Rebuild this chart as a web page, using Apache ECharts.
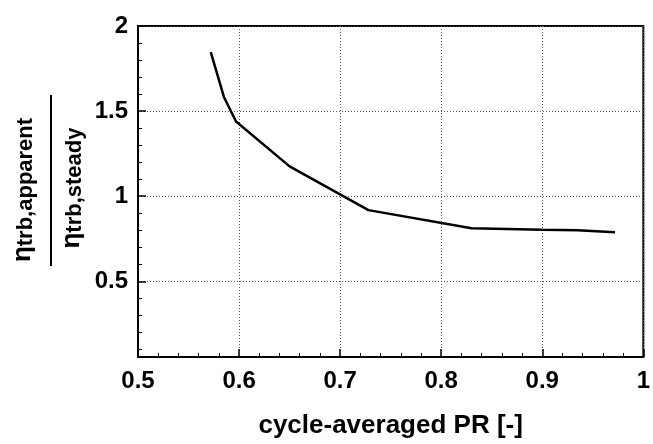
<!DOCTYPE html>
<html>
<head>
<meta charset="utf-8">
<script src="https://cdn.jsdelivr.net/npm/echarts@6/dist/echarts.min.js"></script>
<style>
  html, body { margin: 0; padding: 0; background: #fff; }
  #chart { width: 653px; height: 444px; }
</style>
</head>
<body>
<div id="chart"></div>
<script>
// values
const prValues = [0.572, 0.585, 0.597, 0.650, 0.728, 0.830, 0.900, 0.935, 0.972];
const etaRatio = [1.846, 1.583, 1.439, 1.175, 0.918, 0.812, 0.803, 0.800, 0.788];
const yTickValues = [0.5, 1, 1.5, 2];
const yMinorValues = [0.1, 0.2, 0.3, 0.4, 0.6, 0.7, 0.8, 0.9, 1.1, 1.2, 1.3, 1.4, 1.6, 1.7, 1.8, 1.9];

const chart = echarts.init(document.getElementById('chart'));
const font = 'Liberation Sans';

chart.setOption({
  animation: false,
  grid: {
    left: 138, right: 4, top: 26, bottom: 85,
    show: true, borderColor: '#000', borderWidth: 2
  },
  xAxis: {
    type: 'value',
    min: 0.5, max: 1, interval: 0.1,
    name: 'cycle-averaged PR [-]',
    nameLocation: 'middle',
    nameGap: 56,
    nameTextStyle: { fontFamily: font, fontWeight: 'bold', fontSize: 26, color: '#000' },
    axisLine: { lineStyle: { color: '#000', width: 2 } },
    axisTick: { inside: true, length: 8, lineStyle: { color: '#000', width: 1.5 } },
    minorTick: { show: true, splitNumber: 5, length: 4, lineStyle: { color: '#000', width: 1 } },
    axisLabel: { fontFamily: font, fontWeight: 'bold', fontSize: 24, color: '#000', margin: 12 },
    splitLine: { lineStyle: { color: '#555', type: [1, 2], width: 1 } }
  },
  yAxis: [{
    type: 'value',
    min: 0.055, max: 2,
    axisLine: { show: true, lineStyle: { color: '#000', width: 2 } },
    axisTick: { inside: true, length: 8, customValues: yTickValues, lineStyle: { color: '#000', width: 1.5 } },
    axisLabel: { customValues: yTickValues, fontFamily: font, fontWeight: 'bold', fontSize: 24, color: '#000', margin: 10 },
    splitLine: { lineStyle: { color: '#555', type: [1, 2], width: 1 } }
  }, {
    type: 'value',
    min: 0.055, max: 2,
    position: 'left',
    axisLine: { show: false },
    axisTick: { show: true, inside: true, length: 4, customValues: yMinorValues, lineStyle: { color: '#000', width: 1 } },
    axisLabel: { show: false },
    splitLine: { show: false }
  }],
  graphic: [
    {
      type: 'text', x: 23, y: 190, rotation: Math.PI / 2,
      style: {
        text: '{e|η}{s|trb,apparent}',
        align: 'center', verticalAlign: 'middle',
        rich: {
          e: { fontFamily: font, fontSize: 26, fontWeight: 'bold', fill: '#000' },
          s: { fontFamily: font, fontSize: 22, fontWeight: 'bold', fill: '#000', padding: [6, 0, 0, 0] }
        }
      }
    },
    {
      type: 'line', shape: { x1: 51, y1: 95, x2: 51, y2: 266 },
      style: { stroke: '#000', lineWidth: 2 }
    },
    {
      type: 'text', x: 72, y: 188, rotation: Math.PI / 2,
      style: {
        text: '{e|η}{s|trb,steady}',
        align: 'center', verticalAlign: 'middle',
        rich: {
          e: { fontFamily: font, fontSize: 26, fontWeight: 'bold', fill: '#000' },
          s: { fontFamily: font, fontSize: 22, fontWeight: 'bold', fill: '#000', padding: [6, 0, 0, 0] }
        }
      }
    }
  ],
  series: [{
    type: 'line',
    data: prValues.map((x, i) => [x, etaRatio[i]]),
    showSymbol: false,
    lineStyle: { color: '#000', width: 2.5 }
  }]
});
</script>
</body>
</html>
